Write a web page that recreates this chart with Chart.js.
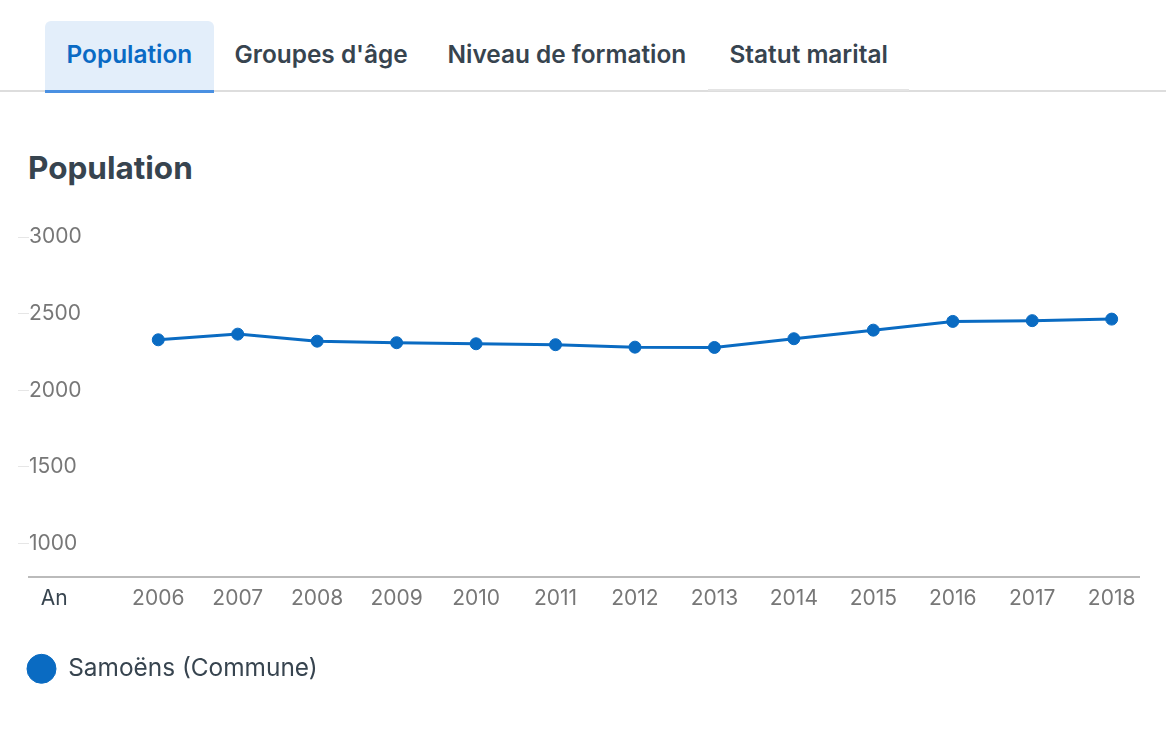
<!DOCTYPE html>
<html lang="fr">
<head>
<meta charset="utf-8">
<title>Population</title>
<script src="https://cdn.jsdelivr.net/npm/chart.js@4.4.1/dist/chart.umd.min.js"></script>
<style>
  html, body { margin: 0; padding: 0; background: #fff; }
  body { width: 1166px; height: 731px; position: relative; overflow: hidden;
         font-family: Inter, "Noto Sans", sans-serif; color: #37444f; }
  .tabs { position: absolute; left: 0; top: 21px; width: 1166px; height: 71px;
          border-bottom: 2px solid #dddddd; box-sizing: border-box; }
  .tab { position: absolute; top: 0; height: 71px; padding: 0 21.5px; box-sizing: border-box;
         font-size: 24.4px; font-weight: 600; line-height: 66px; color: #37444f; white-space: nowrap; }
  .tab.active { background: #e3eefa; color: #0a6ac4; border-radius: 6px 6px 0 0;
                border-bottom: 3px solid #4a90e2; height: 72px; }
  .tab.last { border-bottom: 2px solid #e4e4e4; height: 70px; }
  h2 { position: absolute; left: 28px; top: 145px; margin: 0; font-size: 31.5px; font-weight: 700;
       color: #37444f; line-height: 46px; }
  #wrap { position: absolute; left: 0; top: 217px; width: 1166px; height: 480px; }
</style>
</head>
<body>
<div class="tabs">
  <div class="tab active" style="left:45px">Population</div>
  <div class="tab" style="left:213px">Groupes d'âge</div>
  <div class="tab" style="left:426px">Niveau de formation</div>
  <div class="tab last" style="left:708px">Statut marital</div>
</div>
<h2>Population</h2>
<div id="wrap"><canvas id="chart" width="1166" height="480"></canvas></div>
<script>
// values
const years = [2006, 2007, 2008, 2009, 2010, 2011, 2012, 2013, 2014, 2015, 2016, 2017, 2018];
const population = [2329, 2366, 2320, 2310, 2303, 2297, 2281, 2279, 2336, 2392, 2449, 2454, 2464];
const seriesName = 'Samoëns (Commune)';
const yTicks = [1000, 1500, 2000, 2500, 3000];
const xCaption = 'An';

const BLUE = '#0a6bc2';
const AN_POS = 2004.69;

const ctx = document.getElementById('chart').getContext('2d');

new Chart(ctx, {
    type: 'line',
    data: {
        datasets: [{
            label: seriesName,
            data: years.map((y, i) => ({x: y, y: population[i]})),
            borderColor: BLUE,
            backgroundColor: BLUE,
            pointBackgroundColor: BLUE,
            pointBorderColor: BLUE,
            borderWidth: 3,
            pointRadius: 6,
            pointBorderWidth: 1,
            tension: 0,
            fill: false,
        }]
    },
    options: {
        responsive: false,
        animation: false,
        layout: { padding: { left: 18, right: 27, top: 20, bottom: 6 } },
        font: { family: 'Inter' },
        scales: {
            x: {
                type: 'linear',
                min: 2004.373,
                max: 2018.344,
                grid: { display: false },
                border: { display: true, color: '#bbbbbb', width: 2 },
                afterBuildTicks: axis => {
                    axis.ticks = [{value: AN_POS}].concat(years.map(v => ({value: v})));
                },
                afterFit: axis => { axis.height += 35; },
                ticks: {
                    padding: 1,
                    autoSkip: false,
                    maxRotation: 0,
                    font: { family: 'Inter', size: 21 },
                    color: c => c.index === 0 ? '#37444f' : '#777777',
                    callback: v => v === AN_POS ? xCaption : String(v)
                }
            },
            y: {
                min: 778,
                max: 3000,
                border: { display: false },
                grid: { drawOnChartArea: false, tickLength: 11, color: '#e6e6e6', lineWidth: 1 },
                afterBuildTicks: axis => {
                    axis.ticks = yTicks.map(v => ({value: v}));
                },
                ticks: {
                    mirror: true,
                    padding: 0,
                    font: { family: 'Inter', size: 21 },
                    color: '#777777',
                    callback: v => String(v)
                }
            }
        },
        plugins: {
            tooltip: { enabled: false },
            legend: {
                position: 'bottom',
                align: 'start',
                labels: {
                    usePointStyle: true,
                    pointStyle: 'circle',
                    pointStyleWidth: 29,
                    boxHeight: 20.5,
                    padding: 9,
                    color: '#37444f',
                    font: { family: 'Inter', size: 24.4 }
                }
            }
        }
    }
});
</script>
</body>
</html>
